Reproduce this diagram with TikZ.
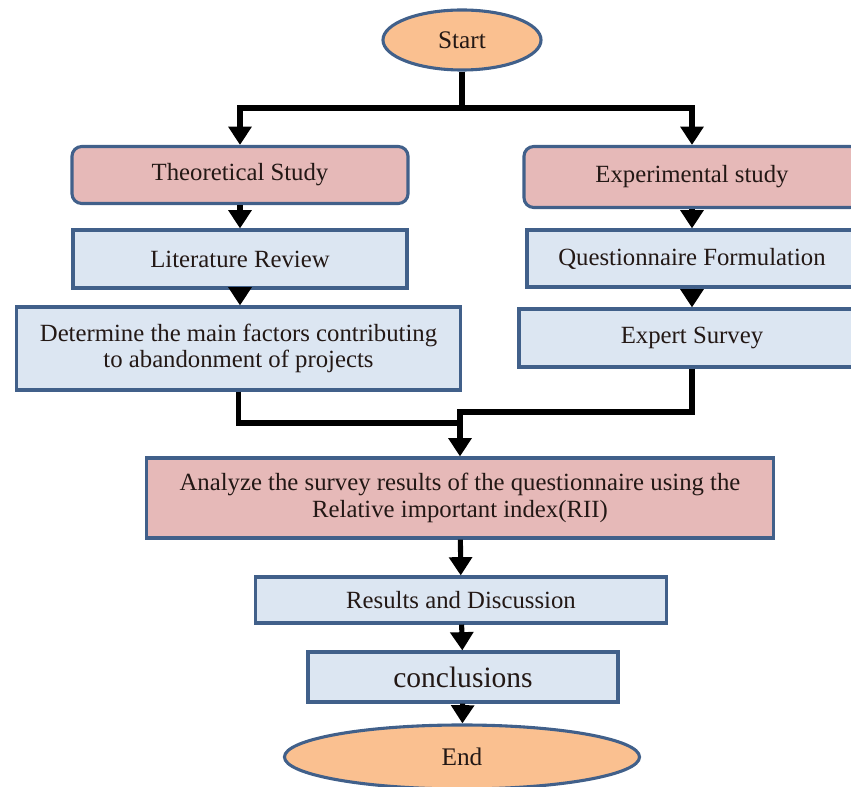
\documentclass[tikz,border=0pt]{standalone}
\usepackage{fontspec}
\setmainfont{Liberation Serif}
\usepackage{tikz}
\usetikzlibrary{shapes.geometric,arrows.meta}
\definecolor{boxline}{HTML}{41608A}
\definecolor{pinkfill}{HTML}{E6B9B8}
\definecolor{bluefill}{HTML}{DCE6F2}
\definecolor{orangefill}{HTML}{FAC090}
\definecolor{inkcol}{HTML}{231815}
\tikzset{
  box/.style={draw=boxline, line width=2.2pt, text=inkcol, align=center,
    inner sep=0pt, font=\fontsize{17.6}{19}\selectfont},
  phase/.style={box, fill=pinkfill, rounded corners=7pt},
  task/.style={box, fill=bluefill},
  terminal/.style={box, ellipse, fill=orangefill, font=\fontsize{18}{20}\selectfont},
  link/.style={line width=3.6pt, black},
  arr/.style={link, -{Triangle[width=16pt,length=13pt]}},
}

\begin{document}
\begin{tikzpicture}[x=0.025cm, y=-0.025cm]
\useasboundingbox (0,0) rectangle (851,787);

% start and the two branches
\node[terminal, minimum width=3.95cm, minimum height=1.5cm] (start) at (462,40) {Start};
\node[phase, minimum width=8.4cm, minimum height=1.425cm] (theo) at (240,175) {Theoretical Study};
\node[phase, minimum width=8.4cm, minimum height=1.525cm] (exp) at (692,177) {Experimental study};

% theoretical side
\node[task, minimum width=8.35cm, minimum height=1.45cm] (lit) at (240,259) {Literature Review};
\node[task, minimum width=11.08cm, minimum height=2.075cm] (det) at (238.5,348.5)
  {Determine the main factors contributing\\ to abandonment of projects};

% experimental side
\node[task, minimum width=8.25cm, minimum height=1.425cm] (quest) at (692,258.5) {Questionnaire Formulation};
\node[task, minimum width=8.65cm, minimum height=1.45cm] (expert) at (692,338) {Expert Survey};

% analysis and the end
\node[phase, rounded corners=0pt, minimum width=15.65cm, minimum height=2cm] (analyze) at (460,498)
  {Analyze the survey results of the questionnaire using the\\ Relative important index(RII)};
\node[task, minimum width=10.25cm, minimum height=1.15cm] (results) at (461,600) {Results and Discussion};
\node[task, minimum width=7.75cm, minimum height=1.25cm, font=\fontsize{21}{23}\selectfont]
  (concl) at (463,677) {conclusions};
\node[terminal, minimum width=8.875cm, minimum height=1.6cm] (end) at (462,757) {End};

% connectors
\coordinate (split) at (462,108);
\coordinate (merge) at (460,412);
\coordinate (mergelow) at (460,423);

\draw[link] (start.south) -- (split);
\draw[arr] (split) -| (theo.north);
\draw[arr] (split) -| (exp.north);
\draw[arr] (theo) -- (lit);
\draw[arr] (lit) -- (lit |- det.north);
\draw[arr] (exp) -- (quest);
\draw[arr] (quest) -- (expert);
\draw[link] (det.south) |- (mergelow);
\draw[arr] (expert.south) |- (merge) -- (analyze.north);
\draw[arr] (analyze) -- (results);
\draw[arr] (results) -- (concl);
\draw[arr] (concl) -- (end);

\end{tikzpicture}
\end{document}
